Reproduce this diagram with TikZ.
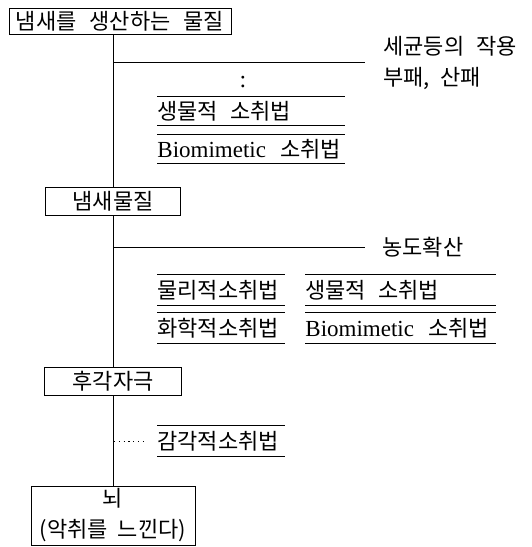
\documentclass[tikz,border=0pt]{standalone}
\usepackage{fontspec}
\setmainfont{Liberation Serif}
\newfontfamily\kr{Noto Sans CJK KR}
\newcommand{\krsz}{\kr\fontsize{22pt}{31pt}\selectfont}
\newcommand{\bio}{{\rmfamily\fontsize{23pt}{24pt}\selectfont Biomimetic}\hspace{14pt}소취법}
\begin{document}
\begin{tikzpicture}[x=1pt,y=-1pt, line width=0.9pt,
  box/.style={draw, fill=white, inner sep=0pt, align=center, font=\krsz},
  lbl/.style={anchor=west, inner sep=0pt, font=\krsz},
  itm/.style={anchor=west, inner xsep=0pt, inner ysep=0pt, text width=#1, minimum height=29pt, align=left, font=\krsz},
  dotline/.style={line width=1pt, dash pattern=on 1.2pt off 3.6pt}]
\useasboundingbox (0,0) rectangle (531,547);

% main boxes
\node[box, minimum width=222pt, minimum height=26pt] (top) at (120,21) {냄새를\hspace{13pt}생산하는\hspace{13pt}물질};
\node[box, minimum width=135pt, minimum height=28pt] (odor) at (113,201) {냄새물질};
\node[box, minimum width=137pt, minimum height=28pt] (stim) at (113,381) {후각자극};
\node[box, minimum width=164pt, minimum height=59pt] (brain) at (113,515.5) {뇌\\(악취를\hspace{10pt}느낀다)};

% side labels
\node[lbl] (l1) at (383,46) {세균등의\hspace{12pt}작용};
\node[lbl] (l2) at (383,78) {부패,\hspace{10pt}산패};
\node[lbl] (l3) at (382,247) {농도확산};
\node[inner sep=0pt, font=\rmfamily\fontsize{24pt}{24pt}\selectfont] (vd) at (243,82) {:};

% underlined items
\node[itm=187pt, minimum height=28pt] (i1) at (157,111) {생물적\hspace{12pt}소취법};
\node[itm=187pt, minimum height=28pt] (i2) at (157,149) {\bio};
\node[itm=127pt, minimum height=30pt] (i3) at (157,290) {물리적소취법};
\node[itm=190pt, minimum height=30pt] (i4) at (305,290) {생물적\hspace{12pt}소취법};
\node[itm=127pt, minimum height=30pt] (i5) at (157,328) {화학적소취법};
\node[itm=190pt, minimum height=30pt] (i6) at (305,328) {\bio};
\node[itm=127pt, minimum height=30pt] (i7) at (157,441) {감각적소취법};
\foreach \n in {i1,i2,i3,i4,i5,i6,i7}{
  \draw (\n.north west) -- (\n.north east) (\n.south west) -- (\n.south east);
}

% trunk
\draw (top.south -| odor.north) -- (odor.north);
\draw (odor.south) -- (stim.north);
\draw (stim.south) -- (brain.north);

% branches
\coordinate (b1) at (113,62);
\coordinate (b1e) at (365,62);
\coordinate (b2) at (113,247);
\coordinate (b2e) at (365,247);
\coordinate (d1) at (114,441);
\coordinate (d1e) at (145,441);
\draw (b1) -- (b1e);
\draw (b2) -- (b2e);
\draw[dotline] (d1) -- (d1e);
\end{tikzpicture}
\end{document}
